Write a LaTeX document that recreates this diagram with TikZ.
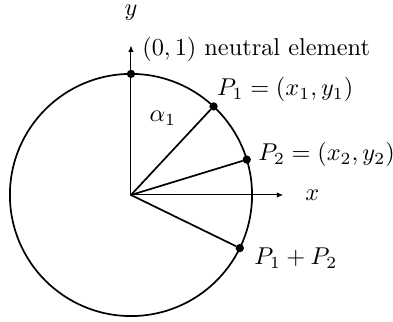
\documentclass[tikz,border=0pt]{standalone}
\usetikzlibrary{arrows.meta}
\begin{document}
\begin{tikzpicture}[line cap=round, >={Latex[length=2.6pt, width=2.2pt]},
  rad/.style={line width=0.7pt},
  ax/.style={->, line width=0.4pt},
  pt/.style={circle, fill=black, inner sep=0pt, minimum size=1.2mm}]
  \useasboundingbox (-1.893,-1.835) rectangle (3.787,2.818);
  \coordinate (O) at (0,0);
  \coordinate (xend) at (2.2,0);
  \coordinate (yend) at (0,2.16);
  % unit circle and axes
  \draw[rad] (O) circle (1.75);
  \draw[ax] (O) -- (xend);
  \draw[ax] (O) -- (yend);
  \node (xl) at (2.62,0) {$x$};
  \node (yl) at (0,2.63) {$y$};
  % points on the circle
  \node[pt] (e) at (90:1.75) {};
  \node[pt] (p1) at (47:1.75) {};
  \node[pt] (p2) at (17:1.75) {};
  \node[pt] (p3) at (-26:1.75) {};
  \draw[rad] (O) -- (p1); \draw[rad] (O) -- (p2); \draw[rad] (O) -- (p3);
  \node[anchor=west] (el) at (0.04,2.10) {$(0,1)$ neutral element};
  \node[anchor=west] (l1) at (1.12,1.52) {$P_1=(x_1,y_1)$};
  \node[anchor=west, inner sep=1pt] (l2) at (1.80,0.58) {$P_2=(x_2,y_2)$};
  \node[anchor=west] (l3) at (1.66,-0.91) {$P_1+P_2$};
  \node (a1) at (0.46,1.11) {$\alpha_1$};
\end{tikzpicture}
\end{document}
